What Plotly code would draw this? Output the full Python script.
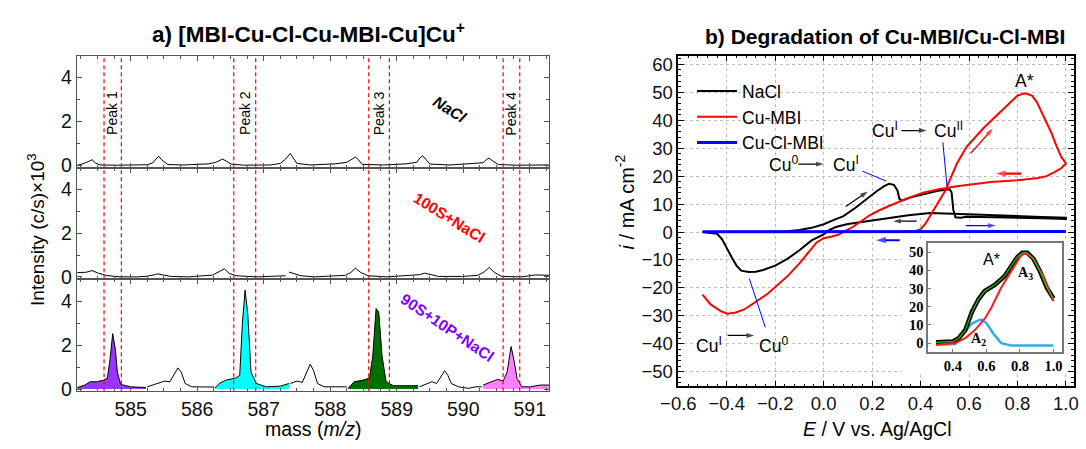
import plotly.graph_objects as go

W, H = 1086, 449
def fx(p): return p / W
def fy(p): return 1 - p / H

FONT = "Liberation Sans, Arial, sans-serif"

# ---------------- panel a: mass spectra ----------------
nacl_mass = [584.20, 584.28, 584.36, 584.42, 584.47, 584.54, 584.80, 585.00, 585.25, 585.33, 585.38,
             585.42, 585.47, 585.56, 585.80, 586.00, 586.17, 586.28, 586.34, 586.38, 586.44, 586.51,
             586.70, 587.10, 587.25, 587.33, 587.40, 587.45, 587.50, 587.70, 588.07, 588.25, 588.33,
             588.38, 588.43, 588.48, 588.80, 589.14, 589.30, 589.35, 589.39, 589.44, 589.50, 589.80,
             590.11, 590.30, 590.35, 590.39, 590.45, 590.53, 590.80, 591.00, 591.29]
nacl_int = [0.02, 0.08, 0.18, 0.27, 0.12, 0.03, 0.02, 0.02, 0.04, 0.12, 0.30,
            0.43, 0.25, 0.05, 0.03, 0.05, 0.08, 0.15, 0.26, 0.30, 0.20, 0.07,
            0.02, 0.03, 0.10, 0.30, 0.55, 0.30, 0.10, 0.03, 0.08, 0.15, 0.32,
            0.39, 0.25, 0.06, 0.03, 0.08, 0.15, 0.35, 0.45, 0.28, 0.07, 0.03,
            0.08, 0.13, 0.28, 0.34, 0.20, 0.05, 0.02, 0.02, 0.03]

s100_mass = [584.20, 584.33, 584.42, 584.51, 584.64, 584.84, 585.10, 585.25, 585.36, 585.41, 585.48,
             585.61, 585.87, 586.08, 586.23, 586.33, 586.41, 586.48, 586.59, 586.90, 587.20, 587.33,
             None, 587.38, 587.46, 587.56, 587.77, 588.07, 588.23, 588.31, 588.38, 588.46, 588.57,
             588.85, 589.11, 589.34, 589.42, 589.50, 589.63, 589.99, 590.22, 590.32, 590.39, 590.47,
             590.58, 590.88, 591.09, 591.29]
s100_int = [0.20, 0.21, 0.29, 0.17, 0.06, 0.00, 0.00, 0.03, 0.10, 0.14, 0.09,
            0.02, 0.00, 0.05, 0.08, 0.24, 0.37, 0.16, 0.05, 0.00, 0.05, 0.05,
            None, 0.22, 0.13, 0.05, 0.00, 0.05, 0.07, 0.20, 0.40, 0.20, 0.05,
            0.00, 0.05, 0.10, 0.17, 0.10, 0.02, 0.02, 0.07, 0.24, 0.43, 0.20,
            0.02, 0.00, 0.09, 0.07]

purple_mass = [584.20, 584.31, 584.39, 584.49, 584.59, 584.65, 584.69, 584.73, 584.77, 584.80, 584.85, 585.00, 585.23]
purple_int = [0.07, 0.18, 0.33, 0.33, 0.40, 0.50, 1.36, 2.52, 1.80, 0.77, 0.21, 0.10, 0.07]
gap1_mass = [585.25, 585.41, 585.51, 585.59, 585.65, 585.71, 585.76, 585.82, 585.92, 586.26]
gap1_int = [0.10, 0.25, 0.36, 0.33, 0.62, 0.96, 0.77, 0.25, 0.10, 0.09]
cyan_mass = [586.27, 586.33, 586.43, 586.58, 586.64, 586.68, 586.72, 586.76, 586.81, 586.89, 587.04, 587.25, 587.38]
cyan_int = [0.05, 0.25, 0.40, 0.50, 0.62, 3.00, 4.50, 3.44, 0.77, 0.25, 0.10, 0.13, 0.25]
gap2_mass = [587.40, 587.50, 587.58, 587.65, 587.70, 587.75, 587.81, 587.91, 588.25]
gap2_int = [0.25, 0.36, 0.30, 0.77, 1.13, 0.84, 0.25, 0.10, 0.10]
green_mass = [588.27, 588.36, 588.49, 588.59, 588.64, 588.69, 588.73, 588.78, 588.84, 588.95, 589.32]
green_int = [0.03, 0.33, 0.40, 0.50, 1.50, 3.66, 3.50, 1.50, 0.33, 0.15, 0.15]
gap3_mass = [589.34, 589.47, 589.53, 589.60, 589.67, 589.72, 589.77, 589.82, 589.93, 590.08, 590.19, 590.28]
gap3_int = [0.10, 0.25, 0.33, 0.25, 0.62, 0.83, 0.62, 0.25, 0.10, 0.03, 0.10, 0.10]
pink_mass = [590.30, 590.42, 590.52, 590.60, 590.66, 590.72, 590.76, 590.81, 590.88, 591.01, 591.16, 591.32]
pink_int = [0.18, 0.33, 0.44, 0.36, 0.77, 1.93, 1.36, 0.47, 0.10, 0.10, 0.18, 0.18]

peak_windows = [(584.60, 584.86), (586.55, 586.88), (588.58, 588.89), (590.60, 590.85)]
peak_labels = ["Peak 1", "Peak 2", "Peak 3", "Peak 4"]
mass_ticks = [585, 586, 587, 588, 589, 590, 591]
int_ticks = [0, 2, 4]

# ---------------- panel b: cyclic voltammetry ----------------
nacl_E = [-0.50, -0.45, -0.35, -0.25, -0.15, -0.10, -0.05, 0.00, 0.05, 0.08, 0.13, 0.18, 0.22, 0.25,
          0.27, 0.29, 0.305, 0.312, 0.32, 0.36, 0.41, 0.48, 0.52, 0.528, 0.535, 0.544, 0.565, 0.59,
          0.70, 0.80, 0.90, 1.00,
          1.00, 0.90, 0.80, 0.70, 0.60, 0.50, 0.44, 0.35, 0.27, 0.20, 0.10, 0.05, 0.02, 0.00, -0.05,
          -0.10, -0.15, -0.20, -0.25, -0.28, -0.31, -0.34, -0.36, -0.38, -0.40, -0.42, -0.44, -0.47, -0.50]
nacl_I = [0.0, 0.0, 0.0, 0.1, 0.3, 0.7, 1.5, 2.8, 4.6, 5.6, 8.6, 12.0, 14.7, 16.4,
          17.3, 16.9, 14.8, 12.0, 11.2, 12.4, 13.5, 14.9, 15.3, 14.2, 8.0, 5.3, 5.1, 5.5,
          5.3, 5.0, 4.9, 4.7,
          5.1, 5.4, 5.7, 6.0, 6.3, 6.6, 6.8, 6.0, 5.0, 4.1, 2.9, 1.8, 0.6, -0.8, -3.0,
          -6.5, -9.6, -12.0, -13.6, -14.2, -14.3, -13.8, -12.0, -9.0, -5.5, -2.5, -0.6, -0.2, 0.0]

cumbi_E = [-0.50, -0.30, 0.00, 0.20, 0.33, 0.38, 0.40, 0.42, 0.44, 0.46, 0.48, 0.50, 0.52, 0.55,
           0.59, 0.63, 0.66, 0.70, 0.73, 0.77, 0.80, 0.83, 0.86, 0.88, 0.90, 0.92, 0.94, 0.96, 0.98, 1.00,
           0.98, 0.955, 0.92, 0.886, 0.80, 0.69, 0.60, 0.55, 0.48, 0.41, 0.356, 0.30, 0.272, 0.23,
           0.188, 0.15, 0.12, 0.09, 0.06, 0.03, 0.00, -0.03, -0.063, -0.10, -0.146, -0.20, -0.23,
           -0.286, -0.328, -0.363, -0.397, -0.425, -0.467, -0.50]
cumbi_I = [0.0, 0.0, 0.0, 0.1, 0.2, 0.4, 1.0, 3.0, 6.0, 9.0, 11.5, 14.5, 18.5, 24.5,
           30.5, 34.5, 37.2, 40.5, 43.0, 46.5, 48.8, 49.6, 48.8, 46.5, 43.0, 39.5, 35.5, 31.0, 27.0, 24.5,
           22.8, 21.5, 20.0, 19.3, 18.5, 17.9, 17.0, 16.4, 15.4, 14.1, 12.4, 10.5, 9.4, 7.8,
           5.9, 3.6, 1.8, 0.4, -1.0, -1.7, -2.2, -3.8, -7.3, -11.2, -15.5, -19.8, -22.0,
           -25.3, -27.7, -28.8, -29.2, -28.3, -25.9, -22.4]

cuclmbi_E = [-0.50, -0.20, 0.20, 0.60, 1.00]
cuclmbi_I = [0.1, 0.1, 0.15, 0.2, 0.2]

# inset: deconvolution of peak A*
ins_E_total = [0.30, 0.40, 0.435, 0.474, 0.513, 0.552, 0.59, 0.65, 0.707, 0.746, 0.785, 0.814, 0.844, 0.88, 0.92, 0.96, 1.00]
ins_I_total = [0.4, 0.9, 2.7, 7.1, 17.0, 24.0, 28.6, 32.0, 36.6, 42.0, 47.3, 49.6, 49.6, 46.4, 39.3, 30.4, 24.5]
ins_E_A3 = [0.30, 0.415, 0.474, 0.53, 0.59, 0.63, 0.688, 0.746, 0.805, 0.834, 0.88, 0.94, 1.00]
ins_I_A3 = [-0.9, 0.0, 2.7, 7.0, 13.4, 19.6, 30.4, 39.3, 48.0, 49.6, 46.4, 36.6, 23.0]
ins_E_A2 = [0.30, 0.415, 0.464, 0.513, 0.552, 0.57, 0.60, 0.64, 0.688, 0.746, 0.85, 1.00]
ins_I_A2 = [-0.9, -0.5, 5.4, 10.7, 12.5, 12.9, 11.0, 5.4, 0.0, -1.25, -1.3, -1.3]

# scan-direction / transition arrows (tail E, tail i, head E, head i, colour, width)
arrows = [(0.321, 36.3, 0.425, 36.3, "black", 1.2),
          (-0.105, 24.3, 0.000, 24.3, "black", 1.2),
          (-0.397, -37.0, -0.287, -37.0, "black", 1.2),
          (0.091, 9.1, 0.182, 14.5, "black", 1.2),
          (0.384, 3.9, 0.287, 3.9, "black", 1.2),
          (0.607, 28.2, 0.698, 37.0, "#ff0000", 1.3),
          (0.816, 20.9, 0.712, 20.9, "#ff0000", 2.2),
          (0.586, 2.3, 0.710, 2.3, "#0000ff", 1.2),
          (0.314, -2.9, 0.217, -2.9, "#0000ff", 2.0)]

fig = go.Figure()

# panel a traces
fig.add_trace(go.Scatter(x=nacl_mass, y=nacl_int, mode="lines", line=dict(color="black", width=1),
                         xaxis="x", yaxis="y", showlegend=False, connectgaps=False))
fig.add_trace(go.Scatter(x=s100_mass, y=s100_int, mode="lines", line=dict(color="black", width=1),
                         xaxis="x2", yaxis="y2", showlegend=False, connectgaps=False))
segments = [(purple_mass, purple_int, "#9933ff"), (gap1_mass, gap1_int, None),
            (cyan_mass, cyan_int, "#00ffff"), (gap2_mass, gap2_int, None),
            (green_mass, green_int, "#006f00"), (gap3_mass, gap3_int, None),
            (pink_mass, pink_int, "#ff80ff")]
for m, v, c in segments:
    kw = dict(fill="tozeroy", fillcolor=c) if c else {}
    fig.add_trace(go.Scatter(x=m, y=v, mode="lines", line=dict(color="black", width=1),
                             xaxis="x3", yaxis="y3", showlegend=False, **kw))

# panel b traces
fig.add_trace(go.Scatter(x=nacl_E, y=nacl_I, mode="lines", name="NaCl",
                         line=dict(color="black", width=2), xaxis="x4", yaxis="y4"))
fig.add_trace(go.Scatter(x=cumbi_E, y=cumbi_I, mode="lines", name="Cu-MBI",
                         line=dict(color="#ff0000", width=2), xaxis="x4", yaxis="y4"))
fig.add_trace(go.Scatter(x=cuclmbi_E, y=cuclmbi_I, mode="lines", name="Cu-Cl-MBI",
                         line=dict(color="#0000ff", width=3), xaxis="x4", yaxis="y4"))

for (x0, y0, x1, y1, col, wd) in arrows:
    fig.add_trace(go.Scatter(x=[x0, x1], y=[y0, y1], mode="lines+markers",
                             line=dict(color=col, width=wd),
                             marker=dict(symbol="arrow", size=[0, 8 + 2 * (wd > 1.5)], angleref="previous",
                                         color=col, line=dict(width=0)),
                             xaxis="x4", yaxis="y4", showlegend=False, hoverinfo="skip"))

# inset traces
fig.add_trace(go.Scatter(x=ins_E_A2, y=ins_I_A2, mode="lines", line=dict(color="#33aaee", width=2.5),
                         xaxis="x5", yaxis="y5", showlegend=False))
fig.add_trace(go.Scatter(x=ins_E_total, y=ins_I_total, mode="lines", line=dict(color="black", width=4.5),
                         xaxis="x5", yaxis="y5", showlegend=False))
fig.add_trace(go.Scatter(x=ins_E_A3, y=ins_I_A3, mode="lines", line=dict(color="#ff1a1a", width=2),
                         xaxis="x5", yaxis="y5", showlegend=False))
fig.add_trace(go.Scatter(x=ins_E_total, y=ins_I_total, mode="lines", line=dict(color="#22bb22", width=1.2),
                         xaxis="x5", yaxis="y5", showlegend=False))

# ---------------- axes ----------------
left_dom = [fx(60), fx(542)]
ydoms = [[fy(170), fy(55)], [fy(284), fy(170)], [fy(399), fy(284)]]
axcol = "#555555"
for k in range(3):
    xa = "xaxis" if k == 0 else f"xaxis{k+1}"
    ya = "yaxis" if k == 0 else f"yaxis{k+1}"
    yid = "y" if k == 0 else f"y{k+1}"
    xid = "x" if k == 0 else f"x{k+1}"
    fig.layout[xa] = dict(domain=left_dom, range=[584.19, 591.29], anchor=yid,
                          showline=True, linecolor=axcol, linewidth=1.3, mirror="ticks",
                          ticks="inside", ticklen=5, tickcolor=axcol, tickvals=mass_ticks,
                          showticklabels=(k == 2), showgrid=False, zeroline=False,
                          tickfont=dict(family=FONT, size=19.5, color="#111"),
                          minor=dict(ticks="inside", ticklen=3, dtick=0.25, tickcolor=axcol))
    fig.layout[ya] = dict(domain=ydoms[k], range=[-0.1, 5.0], anchor=xid,
                          showline=True, linecolor=axcol, linewidth=1.3, mirror="ticks",
                          ticks="inside", ticklen=5, tickcolor=axcol, tickvals=int_ticks,
                          showgrid=False, zeroline=False,
                          tickfont=dict(family=FONT, size=19.5, color="#111"),
                          minor=dict(ticks="inside", ticklen=3, dtick=1, tickcolor=axcol))

fig.layout["xaxis4"] = dict(domain=[fx(674), fx(1078)], range=[-0.6, 1.034], anchor="y4",
                            showline=True, linecolor="black", linewidth=1.5, mirror="ticks",
                            ticks="inside", ticklen=6, tickcolor="black", dtick=0.2, tick0=-0.6,
                            tickformat=".1f", showgrid=True, gridcolor="#bdbdbd", griddash="dot",
                            gridwidth=1, zeroline=False,
                            tickfont=dict(family=FONT, size=18.5, color="#111"),
                            minor=dict(ticks="inside", ticklen=3, dtick=0.04, tickcolor="black"))
fig.layout["yaxis4"] = dict(domain=[fy(394), fy(55)], range=[-55.2, 63.1], anchor="x4",
                            showline=True, linecolor="black", linewidth=1.5, mirror="ticks",
                            ticks="inside", ticklen=6, tickcolor="black", dtick=10, tick0=0,
                            showgrid=True, gridcolor="#bdbdbd", griddash="dot", gridwidth=1,
                            zeroline=False, tickfont=dict(family=FONT, size=18.5, color="#111"),
                            minor=dict(ticks="inside", ticklen=3, dtick=2, tickcolor="black"))
fig.layout["xaxis5"] = dict(domain=[fx(929), fx(1066)], range=[0.253, 1.053], anchor="y5",
                            showline=True, linecolor="#777", linewidth=1.5, mirror=True,
                            ticks="inside", ticklen=3, tickcolor="#777",
                            tickvals=[0.4, 0.6, 0.8, 1.0], ticktext=["0.4", "0.6", "0.8", "1.0"],
                            showgrid=False, zeroline=False,
                            tickfont=dict(family="Liberation Serif, serif", size=14.5, color="black", weight="bold"))
fig.layout["yaxis5"] = dict(domain=[fy(359), fy(247)], range=[-5, 55], anchor="x5",
                            showline=True, linecolor="#777", linewidth=1.5, mirror=True,
                            ticks="inside", ticklen=3, tickcolor="#777",
                            tickvals=[0, 10, 20, 30, 40, 50], showgrid=False, zeroline=False,
                            tickfont=dict(family="Liberation Serif, serif", size=14.5, color="black", weight="bold"))

# ---------------- shapes ----------------
shapes = []
for a, b in peak_windows:
    for xv in (a, b):
        shapes.append(dict(type="line", xref="x3", yref="paper", x0=xv, x1=xv,
                           y0=fy(399), y1=fy(55), line=dict(color="red", width=1.2, dash="4px,3px")))
# white background of the inset
shapes.append(dict(type="rect", xref="x4", yref="y4", x0=0.32, x1=1.0, y0=-51.0, y1=-2.6,
                   fillcolor="white", line=dict(width=0), layer="between"))
# blue leader lines
for (x0, y0, x1, y1) in [(0.160, 21.8, 0.258, 18.2), (0.492, 32.1, 0.509, 16.5), (-0.307, -16.6, -0.241, -34.1)]:
    shapes.append(dict(type="line", xref="x4", yref="y4", x0=x0, y0=y0, x1=x1, y1=y1,
                       line=dict(color="#0000ff", width=1)))

# ---------------- annotations ----------------
ann = []
def text(x, y, s, size, color="black", xref="paper", yref="paper", angle=0, family=FONT):
    ann.append(dict(x=x, y=y, xref=xref, yref=yref, text=s, showarrow=False, textangle=angle,
                    font=dict(family=family, size=size, color=color), xanchor="center", yanchor="middle"))

text(fx(296), fy(32), "<b>a) [MBI-Cu-Cl-Cu-MBI-Cu]Cu<sup>+</sup></b>", 22.5)
text(fx(885), fy(35), "<b>b) Degradation of Cu-MBI/Cu-Cl-MBI</b>", 21)
text(fx(301), fy(438), "mass (<i>m/z</i>)", 19.5)
text(fx(19), fy(233), "Intensity (c/s)×10<sup>3</sup>", 19, angle=-90)
text(fx(877), fy(438), "<i>E</i> / V vs. Ag/AgCl", 19.5)
text(fx(620), fy(205), "<i>i</i> / mA cm<sup>-2</sup>", 20, angle=-90)

for (a, b), lab in zip(peak_windows, peak_labels):
    text((a + b) / 2, fy(114), lab, 14, xref="x", angle=-90)

text(fx(441), fy(110), "<b><i>NaCl</i></b>", 15.5, angle=32)
text(fx(440), fy(221), "<b>100S+NaCl</b>", 15.5, color="#ff0000", angle=32)
text(fx(438), fy(334), "<b>90S+10P+NaCl</b>", 15.5, color="#8000ff", angle=34)

# panel b texts
text(0.830, 54.1, "A*", 17.5, xref="x4", yref="y4")
text(0.254, 36.5, "Cu<sup>I</sup>", 17.5, xref="x4", yref="y4")
text(0.516, 36.5, "Cu<sup>II</sup>", 17.5, xref="x4", yref="y4")
text(-0.167, 24.5, "Cu<sup>0</sup>", 17.5, xref="x4", yref="y4")
text(0.093, 24.5, "Cu<sup>I</sup>", 17.5, xref="x4", yref="y4")
text(-0.474, -40.5, "Cu<sup>I</sup>", 17.5, xref="x4", yref="y4")
text(-0.209, -40.5, "Cu<sup>0</sup>", 17.5, xref="x4", yref="y4")

# inset labels
text(0.63, 46.0, "A*", 16, xref="x5", yref="y5")
text(0.834, 38.0, "<b>A<sub>3</sub></b>", 14, xref="x5", yref="y5", family="Liberation Serif, serif")
text(0.552, 1.8, "<b>A<sub>2</sub></b>", 14, xref="x5", yref="y5", family="Liberation Serif, serif")

fig.update_layout(
    width=W, height=H, margin=dict(l=0, r=0, t=0, b=0),
    paper_bgcolor="white", plot_bgcolor="white",
    font=dict(family=FONT, color="black"),
    shapes=shapes, annotations=ann,
    legend=dict(x=fx(688), y=fy(73), xanchor="left", yanchor="top", bgcolor="rgba(0,0,0,0)",
                font=dict(family=FONT, size=17.5), itemwidth=40, tracegroupgap=0),
)

fig.write_html("out.html")
